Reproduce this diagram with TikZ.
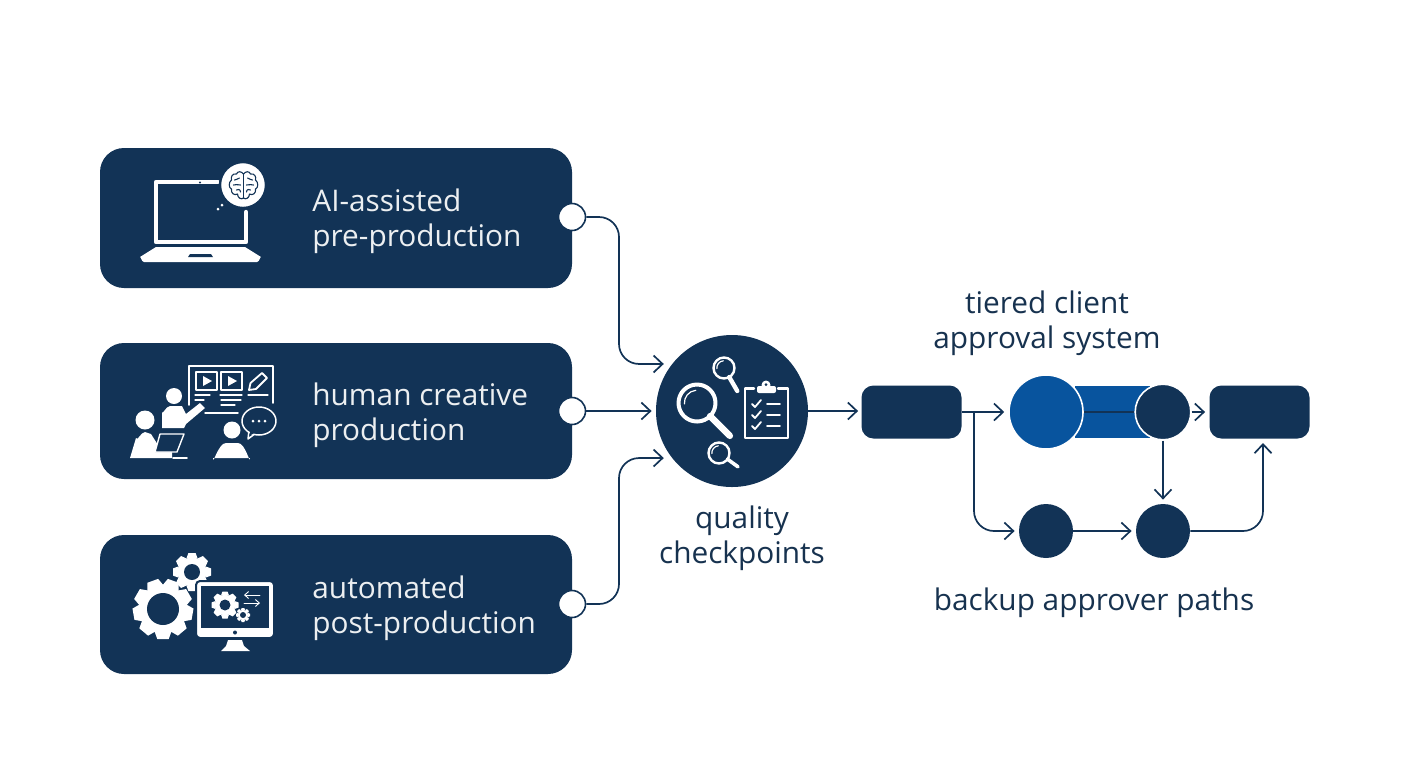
\documentclass[tikz,border=0pt]{standalone}
\usepackage{fontspec}
\setmainfont{Open Sans}
\usetikzlibrary{arrows.meta}

\definecolor{navy}{HTML}{123356}
\definecolor{royal}{HTML}{08549E}
\definecolor{inktext}{HTML}{17324F}

\tikzset{
	card/.style={fill=navy, rounded corners=12pt, minimum width=236pt, inner sep=0pt},
	port/.style={circle, draw=navy, fill=white, line width=0.8pt, minimum size=13.5pt, inner sep=0pt},
	disc/.style={circle, fill=navy, inner sep=0pt, minimum size=27pt},
	slab/.style={fill=navy, rounded corners=6pt, minimum width=50pt, minimum height=26.5pt, inner sep=0pt},
	cardtext/.style={anchor=west, align=left, inner sep=0pt, text=white!92!navy, font=\fontsize{14.9}{17.6}\selectfont},
	caption/.style={align=center, inner sep=0pt, text=inktext, font=\fontsize{14.9}{17.6}\selectfont},
	flow/.style={draw=navy, line width=0.85pt, -{Straight Barb[length=4.5pt,width=8.5pt,line width=0.85pt]}},
	softflow/.style={flow, rounded corners=10pt},
	icon/.style={draw=white, line width=#1, line cap=round, line join=round},
	icon/.default=1pt,
	brainline/.style={draw=navy, line width=0.55pt, line cap=round, line join=round}
}

% gear: x, y, outer radius, hole radius, teeth
\newcommand\gearmark[5]{
	\begin{scope}[shift={(#1,#2)}]
	\fill[white] (0,0) circle ({0.76*#3});
	\foreach \k in {1,...,#5} {
		\fill[white,rotate=\k*360/#5] ({-0.3*#3},{0.7*#3}) -- ({-0.19*#3},#3) -- ({0.19*#3},#3) -- ({0.3*#3},{0.7*#3}) -- cycle;
	}
	\fill[navy] (0,0) circle (#4);
	\end{scope}
}

% magnifier: x, y, radius, handle angle, handle length, ring width, handle width
\newcommand\lensmark[7]{
	\draw[icon=#6] (#1,#2) circle (#3);
	\draw[icon=#7] (#1,#2) ++(#4:#3) -- ++(#4:#5);
	\draw[icon=0.6pt] ({#1-0.68*#3},{#2+0.05*#3}) arc[start angle=175, end angle=265, radius={0.68*#3}];
}

\begin{document}
\begin{tikzpicture}[x=0.5pt,y=-0.5pt]
\useasboundingbox (0,0) rectangle (1408,768);

% Left column
\node[card, minimum height=70pt] (card1) at (336,218) {};
\node[card, minimum height=68pt] (card2) at (336,411) {};
\node[card, minimum height=69.5pt] (card3) at (336,604.5) {};

\node[cardtext] (text1) at (312,221) {AI-assisted\\pre-production};
\node[cardtext] (text2) at (312,415.5) {human creative\\production};
\node[cardtext] (text3) at (312,608.5) {automated\\post-production};

\node[port] (port1) at (572,217) {};
\node[port] (port2) at (572,411) {};
\node[port] (port3) at (572,604) {};

% Laptop icon
\draw[icon=2.2pt] (218,182) -- (156,182) -- (156,242) -- (246,242) -- (246,212);
\fill[navy] (200,182.5) circle (1.2);
\fill[white] (156,247) -- (245,247) -- (261,257) to[out=90,in=0] (257,262) -- (144,262) to[out=180,in=90] (140,257) -- cycle;
\fill[navy] (188,257) -- (190,254) -- (211,254) -- (213,257) -- cycle;
\foreach \x/\y in {218/209,222/205,227/201} {
	\fill[white] (\x,\y) circle (1.5);
}
\fill[white, draw=navy, line width=1.2pt] (243,185) circle (23);
\begin{scope}[shift={(243.5,186)}]
\foreach \s in {1,-1} {
	\begin{scope}[xscale=\s]
	\draw[brainline] (0,-12) .. controls (2,-15) and (6,-15) .. (7,-12) .. controls (11,-13) and (13,-9) .. (12,-6) .. controls (15,-4) and (15,2) .. (12,3) .. controls (13,7) and (9,10) .. (6,8) .. controls (6,12) and (2,14) .. (0,12);
	\draw[brainline] (4,-8) .. controls (6,-6) and (8,-7) .. (9,-6);
	\draw[brainline] (3,-1) .. controls (6,-3) and (8,0) .. (10,-1);
	\draw[brainline] (3,6) .. controls (3,3) and (6,3) .. (7,4);
	\end{scope}
}
\draw[brainline] (0,-12) -- (0,12);
\end{scope}

% Production icon: board
\draw[icon=0.75pt] (189,405) -- (189,366) -- (273,366) -- (273,403);
\draw[icon=0.75pt] (205,413) -- (238,413);
\foreach \x in {196,221} {
	\draw[icon=0.9pt] (\x,372) rectangle ++(21,18);
	\fill[white] (\x+7,376) -- (\x+16,381) -- (\x+7,386) -- cycle;
}
\draw[icon=0.9pt] (249,390) -- (250.5,383) -- (262,373) -- (267,378) -- (256,389) -- cycle;
\foreach \xa/\xb/\y in {195/210/395,220/242/395,248/268/395,195/204/400,221/241/400,221/235/405} {
	\draw[icon=0.6pt] (\xa,\y) -- (\xb,\y);
}
% presenter
\fill[white] (174,396) circle (8);
\fill[white] (162,428) -- (162,412) to[out=-90,in=180] (170,406) -- (182,406) -- (186,414) -- (200,403) -- (205,408) -- (186,424) -- (184,428) -- cycle;
% seated person
\fill[white] (145,420) circle (9.5);
\fill[white] (130,458) -- (136,438) to[out=-70,in=180] (145,432) -- (151,434) -- (158,445) -- (172,452) -- (172,458) -- cycle;
\draw[icon=0.7pt, fill=navy] (160,434) -- (184,434) -- (177,452) -- (155,452) -- cycle;
\draw[icon=0.9pt] (173,458) -- (187,458);
% person in front
\fill[white] (232,430) circle (8.5);
\fill[white] (213,458) to[out=-90,in=180] (226,443) -- (238,443) to[out=0,in=-90] (250,458) -- cycle;
% speech bubble
\draw[icon=0.75pt, fill=navy] (248,439) -- (249,430) -- (256,433) -- cycle;
\draw[icon=0.75pt, fill=navy] (259,421) ellipse (17 and 14);
\fill[navy] (250.5,430) -- (249.5,435) -- (255,433) -- cycle;
\foreach \x in {253,259,265} {
	\fill[white] (\x,421) circle (1.5);
}

% Post-production icon
\gearmark{163}{609}{30}{16}{9}
\gearmark{192}{572}{19}{8}{8}
\fill[white] (228,640) -- (242,640) -- (244,646) -- (250,651) -- (221,651) -- (226,646) -- cycle;
\draw[fill=white, draw=navy, line width=1pt, rounded corners=2pt] (196,581) rectangle (274,638);
\fill[navy] (201,586) rectangle (269,628);
\fill[navy] (235,632.5) circle (2);
\gearmark{225}{605}{13.5}{5.5}{8}
\gearmark{243}{615}{7}{3}{8}
\draw[icon=0.45pt, -{Straight Barb[length=2pt,width=3.5pt]}] (260,595) -- (244,595);
\draw[icon=0.45pt, -{Straight Barb[length=2pt,width=3.5pt]}] (244,603) -- (260,603);

% Quality checkpoints
\node[disc, minimum size=76pt] (check) at (732,411) {};
\node[caption] (checktext) at (742,538) {quality\\checkpoints};
\lensmark{697}{403}{18.5}{45}{28}{2pt}{3.2pt}
\lensmark{724}{368}{10.5}{60}{16}{1.2pt}{2.2pt}
\lensmark{719}{453}{10.5}{36}{13}{1.2pt}{1.8pt}
\draw[icon=1.2pt] (754,388.5) -- (745,388.5) -- (745,438) -- (788,438) -- (788,388.5) -- (778,388.5);
\fill[white, rounded corners=1pt] (757,393) rectangle (776,386);
\fill[white] (766,385) circle (4.5);
\fill[navy] (766,384.5) circle (1.5);
\foreach \y in {404,415,426} {
	\draw[icon=0.9pt] (752,\y) -- (755,\y+3) -- (761,\y-4);
	\draw[icon=0.9pt] (767,\y) -- (780,\y);
}

% Approval paths
\node[slab] (gate) at (911.5,412) {};
\fill[royal] (1075,386) rectangle (1150,438);
\node[circle, fill=royal, draw=white, line width=0.8pt, minimum size=37pt, inner sep=0pt] (tier1) at (1046,412) {};
\node[circle, fill=navy, draw=white, line width=0.8pt, minimum size=27.8pt, inner sep=0pt] (tier2) at (1163,412) {};
\node[slab] (client) at (1259.5,412) {};
\node[disc] (backup1) at (1046,531) {};
\node[disc] (backup2) at (1163,531) {};

\node[caption] (tiertext) at (1047,323.5) {tiered client\\approval system};
\node[caption] (backuptext) at (1094,603) {backup approver paths};

\coordinate (lane1) at (619,290);
\coordinate (lane3) at (619,530);
\coordinate (drop) at (974,412);
\coordinate (rise) at (1263,438);

\draw[softflow, shorten >=4pt] (port1.east) -| (lane1) |- (check.142);
\draw[flow, shorten >=2pt] (port2.east) -- (check.west);
\draw[softflow, shorten >=4pt] (port3.east) -| (lane3) |- (check.218);
\draw[flow, shorten >=1.5pt] (check.east) -- (check.east -| gate.west);
\draw[flow, shorten >=2pt] (gate.east) -- (tier1.west);
\draw[navy, line width=0.85pt] (tier1.east) -- (tier2.west);
\draw[flow, shorten >=2pt] (tier2.east) -- (client.west);
\draw[flow, shorten >=2pt] (tier2.south) -- (backup2.north);
\draw[flow, shorten >=2pt] (backup1.east) -- (backup2.west);
\draw[softflow, shorten >=2pt] (drop) |- (backup1.west);
\draw[softflow, shorten >=2.5pt] (backup2.east) -| (rise);

\end{tikzpicture}
\end{document}
